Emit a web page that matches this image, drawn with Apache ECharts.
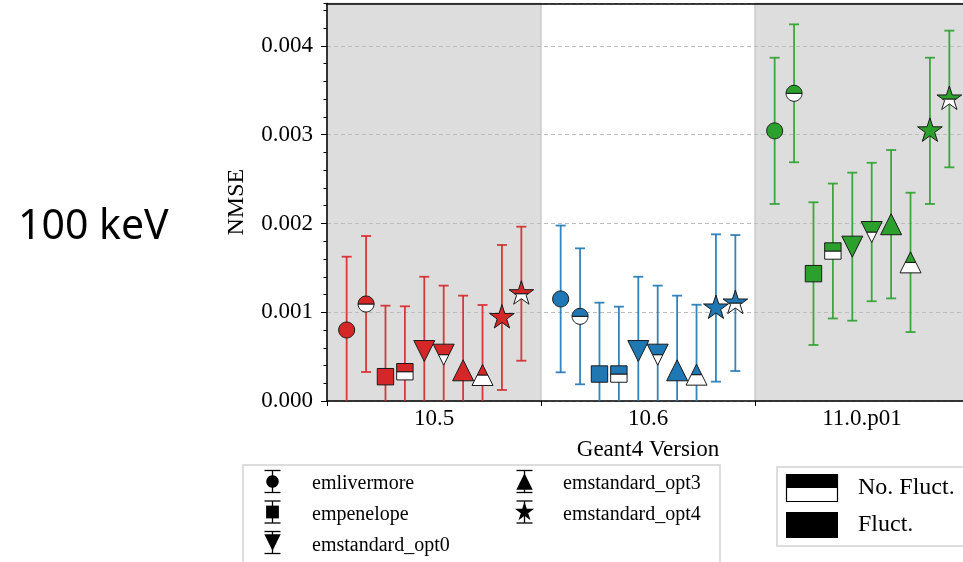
<!DOCTYPE html>
<html><head><meta charset="utf-8">
<script src="https://cdn.jsdelivr.net/npm/echarts@6/dist/echarts.min.js"></script>
<style>html,body{margin:0;padding:0;background:#fff}#c{width:963px;height:562px}</style>
</head><body><div id="c"></div>
<script>
// ---------- data ----------
const versions = ['10.5', '10.6', '11.0.p01'];
const models = ['emlivermore', 'empenelope', 'emstandard_opt0', 'emstandard_opt3', 'emstandard_opt4'];
const fluctLabels = ['No. Fluct.', 'Fluct.'];

// NMSE per model (order of `models`), with symmetric error
const fluct_10_5      = [0.000800, 0.000274, 0.000563, 0.000346, 0.000941];
const fluctErr_10_5   = [0.000826, 0.000800, 0.000837, 0.000841, 0.000817];
const noFluct_10_5    = [0.001093, 0.000330, 0.000522, 0.000293, 0.001209];
const noFluctErr_10_5 = [0.000766, 0.000737, 0.000778, 0.000789, 0.000755];

const fluct_10_6      = [0.001150, 0.000304, 0.000563, 0.000346, 0.001048];
const fluctErr_10_6   = [0.000827, 0.000804, 0.000837, 0.000841, 0.000830];
const noFluct_10_6    = [0.000954, 0.000304, 0.000522, 0.000297, 0.001104];
const noFluctErr_10_6 = [0.000766, 0.000759, 0.000778, 0.000788, 0.000766];

const fluct_11_0      = [0.003044, 0.001435, 0.001739, 0.001992, 0.003044];
const fluctErr_11_0   = [0.000824, 0.000804, 0.000834, 0.000836, 0.000824];
const noFluct_11_0    = [0.003467, 0.001690, 0.001904, 0.001562, 0.003403];
const noFluctErr_11_0 = [0.000777, 0.000760, 0.000780, 0.000785, 0.000770];

// ---------- styling ----------
const COLORS = ['#d62728', '#1f77b4', '#2ca02c'];
const SHAPES = ['circle', 'square', 'down', 'up', 'star'];
const EDGE = '#1a1a1a';
const SERIF = '"Liberation Serif", "DejaVu Serif", serif';
const OFF = 0.0907;      // category-unit spacing between markers
const Y_MAX = 0.00448;

const groups = [
  [fluct_10_5, fluctErr_10_5, noFluct_10_5, noFluctErr_10_5],
  [fluct_10_6, fluctErr_10_6, noFluct_10_6, noFluctErr_10_6],
  [fluct_11_0, fluctErr_11_0, noFluct_11_0, noFluctErr_11_0]
];

function shapePoints(shape, cx, cy, k) {
  k = k || 1;
  const pts = [];
  if (shape === 'circle') {
    const r = 8 * k;
    for (let i = 0; i < 48; i++) {
      const a = Math.PI * 2 * i / 48;
      pts.push([cx + r * Math.cos(a), cy + r * Math.sin(a)]);
    }
  } else if (shape === 'square') {
    const s = 8.2 * k;
    pts.push([cx - s, cy - s], [cx + s, cy - s], [cx + s, cy + s], [cx - s, cy + s]);
  } else if (shape === 'down') {
    const h = 10.5 * k;
    pts.push([cx - h, cy - h], [cx + h, cy - h], [cx, cy + h]);
  } else if (shape === 'up') {
    const h = 10.5 * k;
    pts.push([cx, cy - h], [cx + h, cy + h], [cx - h, cy + h]);
  } else if (shape === 'star') {
    const R = 13 * k, r = R * 0.381966;
    for (let i = 0; i < 10; i++) {
      const a = -Math.PI / 2 + Math.PI * i / 5;
      const rr = i % 2 === 0 ? R : r;
      pts.push([cx + rr * Math.cos(a), cy + rr * Math.sin(a)]);
    }
  }
  return pts;
}

function clipHalf(pts, yc, keepTop) {
  const inside = p => keepTop ? p[1] <= yc : p[1] >= yc;
  const out = [];
  for (let i = 0; i < pts.length; i++) {
    const a = pts[i], b = pts[(i + 1) % pts.length];
    const ia = inside(a), ib = inside(b);
    if (ia) out.push(a);
    if (ia !== ib) {
      const t = (yc - a[1]) / (b[1] - a[1]);
      out.push([a[0] + t * (b[0] - a[0]), yc]);
    }
  }
  return out;
}

function renderPoint(params, api) {
  const x = api.value(0), y = api.value(1), err = api.value(2);
  const m = api.value(3), nf = api.value(4);
  const color = api.visual('color');
  const c = api.coord([x, y]);
  const top = api.coord([x, y + err]);
  const lowV = Math.max(y - err, 0);
  const bot = api.coord([x, lowV]);
  const es = { stroke: color, lineWidth: 1.8, opacity: 0.9 };
  const ch = [];
  ch.push({ type: 'line', shape: { x1: c[0], y1: top[1], x2: c[0], y2: bot[1] }, style: es });
  ch.push({ type: 'line', shape: { x1: c[0] - 5, y1: top[1], x2: c[0] + 5, y2: top[1] }, style: es });
  if (y - err > 0) {
    ch.push({ type: 'line', shape: { x1: c[0] - 5, y1: bot[1], x2: c[0] + 5, y2: bot[1] }, style: es });
  }
  const pts = shapePoints(SHAPES[m], c[0], c[1]);
  if (nf) {
    ch.push({ type: 'polygon', shape: { points: clipHalf(pts, c[1], false) }, style: { fill: '#fff', stroke: EDGE, lineWidth: 1 } });
    ch.push({ type: 'polygon', shape: { points: clipHalf(pts, c[1], true) }, style: { fill: color, stroke: EDGE, lineWidth: 1 } });
  } else {
    ch.push({ type: 'polygon', shape: { points: pts }, style: { fill: color, stroke: EDGE, lineWidth: 1 } });
  }
  return { type: 'group', children: ch };
}

const series = [];
// shaded version bands (10.5 and 11.0.p01)
series.push({
  type: 'custom', name: 'bands', xAxisIndex: 1, yAxisIndex: 0, z: -1, silent: true,
  data: [[-0.5, 0.5], [1.5, 2.5]],
  renderItem: function (params, api) {
    const cs = params.coordSys;
    const a = api.coord([api.value(0), 0]);
    const b = api.coord([api.value(1), 0]);
    return { type: 'rect', shape: { x: a[0], y: cs.y, width: b[0] - a[0], height: cs.height },
      style: { fill: '#dddddd', stroke: '#cbcbcb', lineWidth: 1.5 } };
  },
  encode: { x: [0, 1] }
});

versions.forEach((ver, v) => {
  const g = groups[v];
  const data = [];
  models.forEach((mod, m) => {
    data.push([v + (2 * m - 4.5) * OFF, g[0][m], g[1][m], m, 0]);
    data.push([v + (2 * m + 1 - 4.5) * OFF, g[2][m], g[3][m], m, 1]);
  });
  series.push({
    type: 'custom', name: ver, xAxisIndex: 1, yAxisIndex: 0, z: 3,
    itemStyle: { color: COLORS[v] },
    data: data, renderItem: renderPoint, encode: { x: 0, y: 1 }
  });
});

// ---------- legend (graphic) ----------
const graphic = [];
graphic.push({ type: 'text', left: 18, top: 207, style: { text: '100 keV', font: '41px "Noto Sans", sans-serif', fill: '#000' } });

graphic.push({ type: 'rect', shape: { x: 243, y: 465, width: 477, height: 120 }, style: { fill: '#fff', stroke: '#d2d2d2', lineWidth: 1.5 } });
models.forEach((name, i) => {
  const col = i < 3 ? 0 : 1, row = i < 3 ? i : i - 3;
  const ix = [272.5, 524.5][col], iy = 481.5 + row * 30.5;
  const tx = [312, 563][col], ty = 483.5 + row * 31;
  const ls = { stroke: '#000', lineWidth: 1.3 };
  const hw = 8;
  graphic.push({ type: 'line', shape: { x1: ix, y1: iy - 11, x2: ix, y2: iy + 11 }, style: ls });
  graphic.push({ type: 'line', shape: { x1: ix - hw, y1: iy - 11, x2: ix + hw, y2: iy - 11 }, style: ls });
  graphic.push({ type: 'line', shape: { x1: ix - hw, y1: iy + 11, x2: ix + hw, y2: iy + 11 }, style: ls });
  graphic.push({ type: 'polygon', shape: { points: shapePoints(SHAPES[i], ix, iy, 0.78) }, style: { fill: '#000' } });
  graphic.push({ type: 'text', x: tx, y: ty, style: { text: name, font: '20px ' + SERIF, fill: '#000', verticalAlign: 'middle' } });
});

graphic.push({ type: 'rect', shape: { x: 777, y: 467, width: 220, height: 79 }, style: { fill: '#fff', stroke: '#d2d2d2', lineWidth: 1.5 } });
graphic.push({ type: 'rect', shape: { x: 786.5, y: 474.5, width: 51, height: 27 }, style: { fill: '#fff', stroke: '#000', lineWidth: 1.2 } });
graphic.push({ type: 'rect', shape: { x: 786, y: 474, width: 52, height: 14 }, style: { fill: '#000' } });
graphic.push({ type: 'rect', shape: { x: 786, y: 512, width: 52, height: 26 }, style: { fill: '#000' } });
fluctLabels.forEach((t, i) => {
  graphic.push({ type: 'text', x: 858, y: [488, 525][i], style: { text: t, font: '24px ' + SERIF, fill: '#000', verticalAlign: 'middle' } });
});

const option = {
  animation: false,
  backgroundColor: '#fff',
  grid: { left: 327, width: 642, top: 3.4, bottom: 161, containLabel: false, outerBoundsMode: 'none' },
  xAxis: [
    {
      type: 'category', data: versions, position: 'bottom', boundaryGap: true,
      axisLine: { onZero: false, lineStyle: { color: '#000', width: 1.5 } },
      axisTick: { show: true, length: 5, lineStyle: { color: '#000', width: 1 } },
      axisLabel: { fontFamily: SERIF, fontSize: 23, color: '#000', margin: 6 },
      splitLine: { show: false },
      name: 'Geant4 Version', nameLocation: 'middle', nameGap: 37,
      nameTextStyle: { fontFamily: SERIF, fontSize: 23, color: '#000' }
    },
    {
      type: 'value', min: -0.5, max: 2.5, position: 'top',
      axisLine: { show: true, onZero: false, lineStyle: { color: '#000', width: 1.5 } },
      axisTick: { show: false }, axisLabel: { show: false }, splitLine: { show: false }
    }
  ],
  yAxis: [
    {
      type: 'value', min: 0, max: Y_MAX, interval: 0.001,
      axisLine: { show: true, onZero: false, lineStyle: { color: '#000', width: 1.5 } },
      axisTick: { show: true, length: 6, lineStyle: { color: '#000', width: 1 } },
      axisLabel: { formatter: v => v.toFixed(3), fontFamily: SERIF, fontSize: 23, color: '#000', margin: 14, showMaxLabel: false },
      splitLine: { show: true, lineStyle: { color: '#bdbdbd', width: 1, type: [4, 3] } },
      name: 'NMSE', nameLocation: 'middle', nameGap: 78,
      nameTextStyle: { fontFamily: SERIF, fontSize: 24, color: '#000' }
    },
    {
      type: 'value', min: 0, max: Y_MAX, interval: 0.0002, position: 'left',
      axisLine: { show: false, onZero: false },
      axisTick: { show: true, length: 3.5, lineStyle: { color: '#000', width: 1 } },
      axisLabel: { show: false }, splitLine: { show: false }
    }
  ],
  series: series,
  graphic: graphic
};

const chart = echarts.init(document.getElementById('c'), null, { renderer: 'canvas' });
chart.setOption(option);
</script>
</body></html>
